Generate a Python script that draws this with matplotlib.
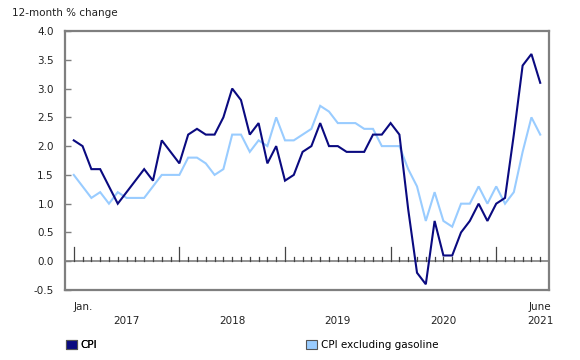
import matplotlib
matplotlib.use("Agg")
import matplotlib.pyplot as plt
from matplotlib.patches import Patch
import numpy as np

cpi = [2.1, 2.0, 1.6, 1.6, 1.3, 1.0, 1.2, 1.4, 1.6, 1.4, 2.1, 1.9,
       1.7, 2.2, 2.3, 2.2, 2.2, 2.5, 3.0, 2.8, 2.2, 2.4, 1.7, 2.0,
       1.4, 1.5, 1.9, 2.0, 2.4, 2.0, 2.0, 1.9, 1.9, 1.9, 2.2, 2.2,
       2.4, 2.2, 0.9, -0.2, -0.4, 0.7, 0.1, 0.1, 0.5, 0.7, 1.0, 0.7,
       1.0, 1.1, 2.2, 3.4, 3.6, 3.1]
cpi_ex_gas = [1.5, 1.3, 1.1, 1.2, 1.0, 1.2, 1.1, 1.1, 1.1, 1.3, 1.5, 1.5,
              1.5, 1.8, 1.8, 1.7, 1.5, 1.6, 2.2, 2.2, 1.9, 2.1, 2.0, 2.5,
              2.1, 2.1, 2.2, 2.3, 2.7, 2.6, 2.4, 2.4, 2.4, 2.3, 2.3, 2.0,
              2.0, 2.0, 1.6, 1.3, 0.7, 1.2, 0.7, 0.6, 1.0, 1.0, 1.3, 1.0,
              1.3, 1.0, 1.2, 1.9, 2.5, 2.2]
years = ["2017", "2018", "2019", "2020", "2021"]
y_ticks = [-0.5, 0.0, 0.5, 1.0, 1.5, 2.0, 2.5, 3.0, 3.5, 4.0]
series_names = ["CPI", "CPI excluding gasoline"]
c_dark = "#0a0a80"
c_light = "#99ccff"
grey = "#7f7f7f"

plt.rcParams['font.family'] = ['DejaVu Sans']
fig = plt.figure(figsize=(5.8, 3.6), dpi=100)
ax = fig.add_axes([0.112, 0.1944, 0.8346, 0.7195])

n = len(cpi)
x = np.arange(n)
ax.plot(x, cpi_ex_gas, color=c_light, lw=1.5, solid_joinstyle='miter', zorder=3)
ax.plot(x, cpi, color=c_dark, lw=1.5, solid_joinstyle='miter', zorder=4)

ax.set_xlim(-1.0, n + 0.0)
ax.set_ylim(-0.5, 4.0)
ax.set_yticks(y_ticks)
ax.set_yticklabels([f"{v:.1f}" for v in y_ticks], fontsize=7.5, color="#222222")
ax.tick_params(axis='y', direction='in', length=4, width=1, color=grey, pad=8)
ax.set_xticks([])
for s in ax.spines.values():
    s.set_color(grey)
    s.set_linewidth(1.6)

# zero line and month ticks
ax.axhline(0, color=grey, lw=1.2, zorder=2)
for i in range(n):
    h = 0.25 if i % 12 == 0 else 0.08
    ax.plot([i, i], [0, h], color="#444444", lw=0.9, zorder=2)

# x labels
trans = ax.get_xaxis_transform()
ax.text(0, -0.066, "Jan.", transform=trans, ha='left', va='center', fontsize=7.5, color="#222222")
ax.text(n - 1, -0.066, "June", transform=trans, ha='center', va='center', fontsize=7.5, color="#222222")
for k, yname in enumerate(years):
    cx = min(k * 12 + 6, n - 1)
    ax.text(cx, -0.12, yname, transform=trans, ha='center', va='center', fontsize=7.5, color="#222222")

fig.text(0.02, 0.965, "12-month % change", ha='left', va='center', fontsize=7.5, color="#222222")

h1 = Patch(facecolor=c_dark, edgecolor="#555555", lw=0.8)
h2 = Patch(facecolor=c_light, edgecolor="#555555", lw=0.8)
leg1 = fig.legend([h1], [series_names[0]], loc='center left', bbox_to_anchor=(0.098, 0.042),
                  frameon=False, fontsize=7.5, handlelength=1.0, handleheight=1.0, handletextpad=0.4)
fig.add_artist(leg1)
fig.legend([h2], [series_names[1]], loc='center left', bbox_to_anchor=(0.512, 0.042),
           frameon=False, fontsize=7.5, handlelength=1.0, handleheight=1.0, handletextpad=0.4)

fig.savefig("out.png", dpi=100)
